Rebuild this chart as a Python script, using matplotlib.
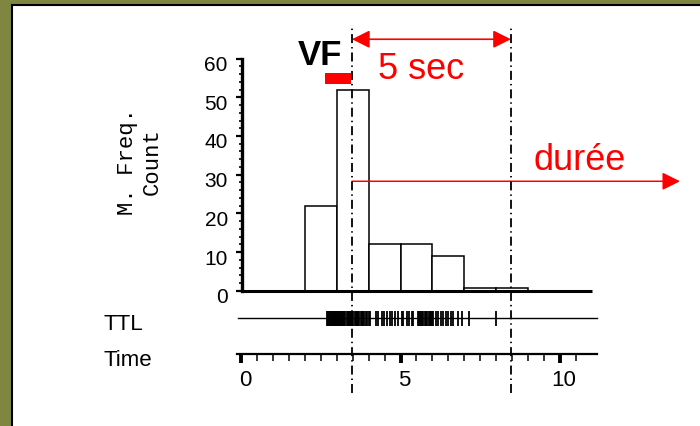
import matplotlib
matplotlib.use("Agg")
import matplotlib.pyplot as plt
from matplotlib.patches import Rectangle
from matplotlib.ticker import FixedLocator
from matplotlib.transforms import ScaledTranslation

plt.rcParams['font.family'] = ['Liberation Sans', 'DejaVu Sans']

# histogram data (1 s bins)
bin_edges = [0, 1, 2, 3, 4, 5, 6, 7, 8, 9, 10, 11]
counts = [0, 0, 22, 52, 12, 12, 9, 0.8, 0.8, 0, 0]

# TTL event times (s)
ttl_times = [2.69, 2.72, 2.75, 2.78, 2.81, 2.84, 2.87, 2.90, 2.93, 2.96,
             2.99, 3.02, 3.05, 3.08, 3.11, 3.14, 3.17, 3.20, 3.24, 3.27,
             3.31, 3.34, 3.38, 3.41, 3.45, 3.49, 3.52, 3.56, 3.60, 3.63,
             3.67, 3.71, 3.75, 3.79, 3.83, 3.87, 3.91, 3.95, 4.00, 4.04,
             4.22, 4.30, 4.41, 4.48, 4.57, 4.67, 4.74, 4.83, 4.93, 5.04,
             5.09, 5.19, 5.27, 5.35, 5.40, 5.56, 5.59, 5.62, 5.65, 5.68,
             5.72, 5.76, 5.80, 5.84, 5.88, 5.92, 5.96, 6.00, 6.03, 6.11,
             6.19, 6.26, 6.34, 6.43, 6.50, 6.57, 6.64, 6.81, 6.94, 7.16,
             7.98]

vf_onset = 3.48
window_end = 8.46
vf_bar = (2.63, 3.45)

# rows below histogram (in count units)
ttl_row = -7.05
time_row = -16.34

olive = '#7f8640'

fig = plt.figure(figsize=(7, 4.26), dpi=100, facecolor=olive)
fig.add_artist(Rectangle((12 / 700, -0.1), 1.2, 1 - 5 / 426 + 0.1,
                         transform=fig.transFigure, facecolor='white',
                         edgecolor='black', lw=1.5, zorder=-10))

ax = fig.add_axes([230 / 700, 1 - 400 / 426, 370 / 700, 380 / 426])
ax.set_facecolor('none')
ax.set_xlim(-0.345, 11.254)
ax.set_ylim(-28.22, 69.97)

# histogram
ax.bar(bin_edges[:-1], counts, width=1, align='edge', facecolor='white',
       edgecolor='black', lw=1.1, zorder=2)
ax.plot([bin_edges[0], bin_edges[-1]], [0, 0], color='black', lw=2.2,
        solid_capstyle='butt', zorder=3)

# TTL row
ax.plot([-0.09, 11.16], [ttl_row, ttl_row], color='black', lw=1.0)
ax.vlines(ttl_times, ttl_row - 1.94, ttl_row + 1.94, color='black', lw=1.3)

# dash-dot markers
ax.vlines([vf_onset, window_end], -26.5, 68.6, color='black', lw=1.3,
          linestyles=[(0, (5, 2.2, 0.8, 2.2))], zorder=4)

# spines / axes
for s in ['top', 'right']:
    ax.spines[s].set_visible(False)
ax.spines['left'].set_position(('data', 0.02))
ax.spines['left'].set_bounds(0, 60)
ax.spines['left'].set_linewidth(2.4)
ax.spines['bottom'].set_position(('data', time_row))
ax.spines['bottom'].set_bounds(-0.13, 11.16)
ax.spines['bottom'].set_linewidth(1.6)

ax.set_yticks([0, 10, 20, 30, 40, 50, 60])
ax.yaxis.set_minor_locator(FixedLocator([2, 4, 6, 8, 12, 14, 16, 18, 22, 24,
                                         26, 28, 32, 34, 36, 38, 42, 44, 46,
                                         48, 52, 54, 56, 58]))
ax.tick_params(axis='y', which='major', length=4, width=1.6, labelsize=15,
               pad=6)
ax.tick_params(axis='y', which='minor', length=2.5, width=1.2)

ax.set_xticks([0, 5, 10])
ax.xaxis.set_minor_locator(FixedLocator([0.5, 1, 1.5, 2, 2.5, 3, 3.5, 4, 4.5,
                                         5.5, 6, 6.5, 7, 7.5, 8, 8.5, 9, 9.5,
                                         10.5]))
ax.tick_params(axis='x', which='major', length=6.5, width=2.8, labelsize=16,
               pad=5)
ax.tick_params(axis='x', which='minor', length=5, width=1.1)

for lbl in ax.get_yticklabels():
    lbl.set_transform(lbl.get_transform() +
                      ScaledTranslation(0, -0.05, fig.dpi_scale_trans))
for lbl in ax.get_xticklabels():
    lbl.set_transform(lbl.get_transform() +
                      ScaledTranslation(0.04, 0, fig.dpi_scale_trans))

# annotations
ax.text(2.49, 58.3, 'VF', fontsize=25, fontweight='bold', ha='center',
        va='baseline')
ax.barh(54.9, vf_bar[1] - vf_bar[0], left=vf_bar[0], height=2.9,
        color='red', zorder=5)
ax.annotate('', xy=(vf_onset, 65.0), xytext=(window_end, 65.0),
            arrowprops=dict(arrowstyle='<|-|>', color='red', lw=1.2,
                            mutation_scale=27, shrinkA=0, shrinkB=0))
ax.text(5.64, 54.7, '5 sec', fontsize=26, color='red', ha='center',
        va='baseline')
ax.annotate('', xy=(13.76, 28.3), xytext=(vf_onset, 28.3),
            annotation_clip=False,
            arrowprops=dict(arrowstyle='-|>', color='red', lw=1.1,
                            mutation_scale=27, shrinkA=0, shrinkB=0))
ax.text(10.61, 31.1, 'durée', fontsize=26, color='red', ha='center',
        va='baseline')

# row labels
fig.text(104 / 700, 1 - 330 / 426, 'TTL', fontsize=16, va='baseline')
fig.text(104 / 700, 1 - 366 / 426, 'Time', fontsize=16, va='baseline')
fig.text(140 / 700, 1 - 161.5 / 426, 'M. Freq.\nCount', rotation=90,
         family='Liberation Mono', fontsize=16, ha='center', va='center',
         multialignment='center')

fig.savefig('out.png', dpi=100, facecolor=olive)
